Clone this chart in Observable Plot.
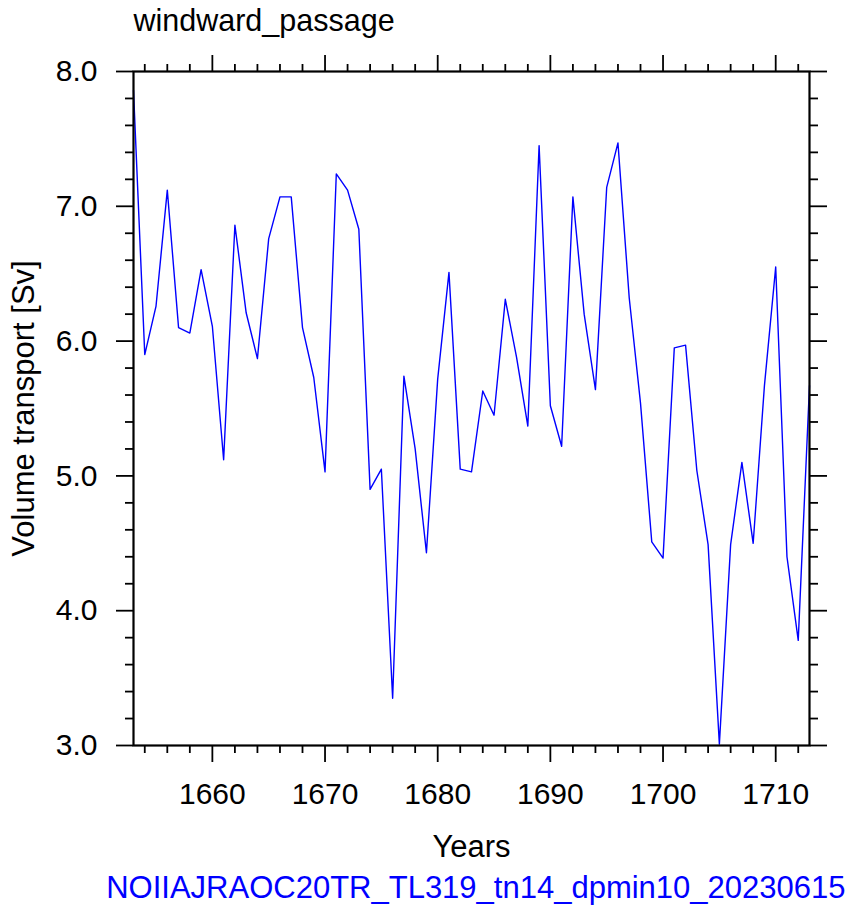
<!DOCTYPE html>
<html>
<head>
<meta charset="utf-8">
<script src="https://cdn.jsdelivr.net/npm/d3@7"></script>
<script src="https://cdn.jsdelivr.net/npm/@observablehq/plot@0.6"></script>
<style>
  html, body { margin: 0; padding: 0; background: #fff; }
</style>
</head>
<body>
<div id="chart"></div>
<script>
const years = [1653,1654,1655,1656,1657,1658,1659,1660,1661,1662,1663,1664,1665,1666,1667,1668,1669,1670,
  1671,1672,1673,1674,1675,1676,1677,1678,1679,1680,1681,1682,1683,1684,1685,1686,1687,1688,1689,1690,
  1691,1692,1693,1694,1695,1696,1697,1698,1699,1700,1701,1702,1703,1704,1705,1706,1707,1708,1709,1710,
  1711,1712,1713];
const transport = [7.86,5.90,6.26,7.12,6.10,6.06,6.53,6.11,5.12,6.86,6.21,5.87,6.76,7.07,7.07,6.10,5.73,5.03,
  7.24,7.12,6.83,4.90,5.05,3.35,5.74,5.20,4.43,5.72,6.51,5.05,5.03,5.63,5.45,6.31,5.88,5.37,7.45,5.52,
  5.22,7.07,6.20,5.64,7.14,7.47,6.32,5.54,4.51,4.39,5.95,5.97,5.04,4.49,3.01,4.49,5.10,4.50,5.67,6.55,
  4.40,3.78,5.67];
const xMajorTicks = [1660,1670,1680,1690,1700,1710];
const xMinorTicks = [1654,1656,1658,1662,1664,1666,1668,1672,1674,1676,1678,1682,1684,1686,1688,1692,1694,1696,1698,1702,1704,1706,1708,1712];
const yMajorTicks = [3,4,5,6,7,8];
const yMinorTicks = [3.2,3.4,3.6,3.8,4.2,4.4,4.6,4.8,5.2,5.4,5.6,5.8,6.2,6.4,6.6,6.8,7.2,7.4,7.6,7.8];
const titleText = "windward_passage";
const xLabel = "Years";
const yLabel = "Volume transport [Sv]";
const captionText = "NOIIAJRAOC20TR_TL319_tn14_dpmin10_20230615";

const data = years.map((y, i) => ({year: y, value: transport[i]}));
const blank = () => "";
const tickW = 1.8;

const chart = Plot.plot({
  width: 848,
  height: 913,
  marginLeft: 133,
  marginRight: 39,
  marginTop: 71,
  marginBottom: 168,
  style: {fontFamily: "'Liberation Sans', Arial, Helvetica, sans-serif", fontSize: "30px", color: "black", background: "white"},
  x: {domain: [1653, 1713]},
  y: {domain: [3, 8]},
  marks: [
    Plot.line(data, {x: "year", y: "value", stroke: "#0000ff", strokeWidth: 1.4}),
    // bottom axis
    Plot.axisX({anchor: "bottom", ticks: xMajorTicks, tickSize: 17, tickPadding: 20, tickFormat: d => String(d), strokeWidth: tickW, label: null}),
    Plot.axisX({anchor: "bottom", ticks: xMinorTicks, tickSize: 8, tickFormat: blank, strokeWidth: tickW, label: null}),
    // top axis
    Plot.axisX({anchor: "top", ticks: xMajorTicks, tickSize: 17, tickFormat: blank, strokeWidth: tickW, label: null}),
    Plot.axisX({anchor: "top", ticks: xMinorTicks, tickSize: 8, tickFormat: blank, strokeWidth: tickW, label: null}),
    // left axis
    Plot.axisY({anchor: "left", ticks: yMajorTicks, tickSize: 17, tickPadding: 19, tickFormat: d => d.toFixed(1), strokeWidth: tickW, label: null}),
    Plot.axisY({anchor: "left", ticks: yMinorTicks, tickSize: 8, tickFormat: blank, strokeWidth: tickW, label: null}),
    // right axis
    Plot.axisY({anchor: "right", ticks: yMajorTicks, tickSize: 17, tickFormat: blank, strokeWidth: tickW, label: null}),
    Plot.axisY({anchor: "right", ticks: yMinorTicks, tickSize: 8, tickFormat: blank, strokeWidth: tickW, label: null}),
    Plot.frame({stroke: "black", strokeWidth: 2.2}),
    // texts
    Plot.text([titleText], {frameAnchor: "top-left", text: d => d, dy: -41, textAnchor: "start", lineAnchor: "bottom", fontSize: 30.5, fill: "black"}),
    Plot.text([xLabel], {frameAnchor: "bottom", text: d => d, dy: 111, textAnchor: "middle", lineAnchor: "bottom", fontSize: 31, fill: "black"}),
    Plot.text([yLabel], {frameAnchor: "left", text: d => d, dx: -100, rotate: -90, textAnchor: "middle", lineAnchor: "bottom", fontSize: 31, fill: "black"}),
    Plot.text([captionText], {frameAnchor: "bottom-right", text: d => d, dx: 36, dy: 152, textAnchor: "end", lineAnchor: "bottom", fontSize: 31, fill: "#0000ff"})
  ]
});
document.getElementById("chart").appendChild(chart);
</script>
</body>
</html>
